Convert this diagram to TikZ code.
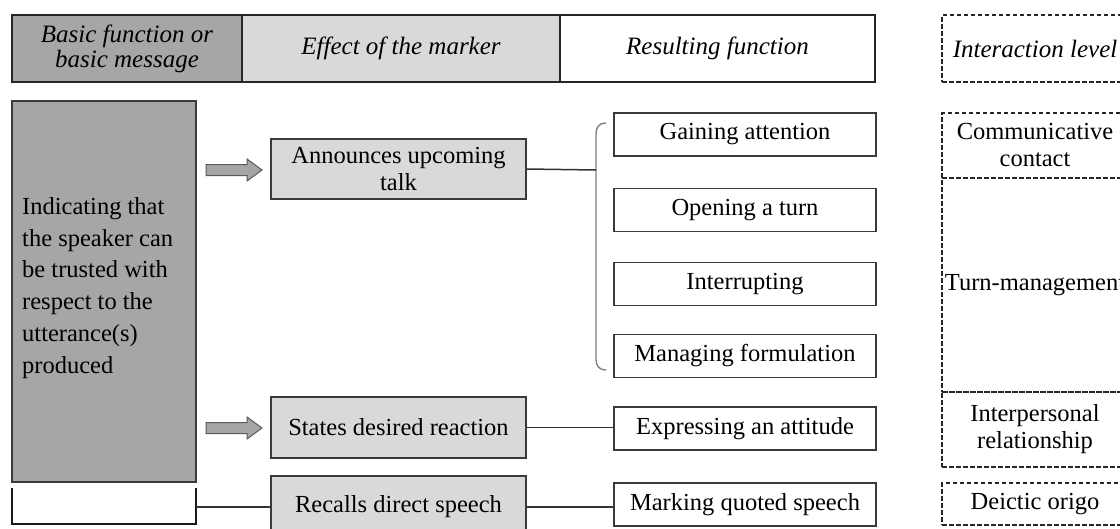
\documentclass[tikz,border=0pt]{standalone}
\usepackage{fontspec}
\setmainfont{Liberation Serif}
\usetikzlibrary{calc}
\definecolor{darkg}{HTML}{A6A6A6}
\definecolor{lightg}{HTML}{D9D9D9}
\definecolor{edgec}{HTML}{3A3A3A}
\definecolor{bracec}{HTML}{808080}
\definecolor{arrowc}{HTML}{5A5A5A}
\begin{document}
\begin{tikzpicture}[x=1pt,y=-1pt,
  box/.style={draw=edgec, line width=1.2pt, inner sep=0pt, align=center,
    font=\fontsize{24.5}{27}\selectfont},
  hdr/.style={box, draw=black!85, font=\fontsize{25}{25}\selectfont\itshape},
  lvl/.style={draw=black!85, dash pattern=on 4.5pt off 2.5pt, line width=1.1pt,
    inner sep=0pt, align=center, font=\fontsize{24.5}{27}\selectfont},
  link/.style={draw=black!80, line width=1.5pt},
  blockarrow/.style={fill=darkg, draw=arrowc, line width=1pt, line join=miter}
]
\useasboundingbox (0,0) rectangle (1120,528);
\clip (0,0) rectangle (1120,528);

% header row
\node[hdr, fill=darkg, minimum width=230pt, minimum height=67pt] (h1) at (127,48.5) {Basic function or\\basic message};
\node[hdr, fill=lightg, minimum width=318pt, minimum height=67pt] (h2) at (401,48.5) {Effect of the marker};
\node[hdr, fill=white, minimum width=315pt, minimum height=67pt] (h3) at (717.5,48.5) {Resulting function};
\node[lvl, font=\fontsize{25}{25}\selectfont\itshape, minimum width=186pt, minimum height=67pt] (h4) at (1035,48.5) {Interaction level};

% basic function box
\node[box, fill=darkg, minimum width=184pt, minimum height=381pt] (basic) at (104,291.5) {};
\node[anchor=west, inner sep=0pt, align=left, font=\fontsize{24.5}{31.8}\selectfont] (basictxt) at (22,288) {Indicating that\\the speaker can\\be trusted with\\respect to the\\utterance(s)\\produced};

% block arrows
\foreach \c/\n in {170/a1, 428/a2}{
  \draw[blockarrow] (206,\c-5.5) -- (247,\c-5.5) -- (247,\c-11) -- (262,\c) -- (247,\c+11) -- (247,\c+5.5) -- (206,\c+5.5) -- cycle;
}

% effect boxes
\node[box, fill=lightg, minimum width=255pt, minimum height=60pt] (ann) at (398.5,169) {Announces upcoming\\talk};
\node[box, fill=lightg, minimum width=255pt, minimum height=61pt] (sta) at (398.5,427.5) {States desired reaction};
\node[box, fill=lightg, minimum width=255pt, minimum height=62pt] (rec) at (398.5,507) {Recalls direct speech};

% resulting function boxes
\node[box, fill=white, minimum width=262pt, minimum height=43pt] (gain) at (745,134.5) {Gaining attention};
\node[box, fill=white, minimum width=262pt, minimum height=43pt] (open) at (745,210) {Opening a turn};
\node[box, fill=white, minimum width=262pt, minimum height=43pt] (intr) at (745,284) {Interrupting};
\node[box, fill=white, minimum width=262pt, minimum height=43pt] (mang) at (745,356) {Managing formulation};
\node[box, fill=white, minimum width=262pt, minimum height=43pt] (expr) at (745,428.5) {Expressing an attitude};
\node[box, fill=white, minimum width=262pt, minimum height=43pt] (mark) at (745,504.5) {Marking quoted speech};

% interaction level column
\node[lvl, minimum width=186pt, minimum height=65pt] (comm) at (1035,145.5) {Communicative\\contact};
\node[lvl, minimum width=186pt, minimum height=214pt] (turn) at (1035,285) {Turn-management};
\node[lvl, minimum width=186pt, minimum height=75pt] (inter) at (1035,429.5) {Interpersonal\\relationship};
\node[lvl, minimum width=186pt, minimum height=42pt] (deic) at (1035,504) {Deictic origo};

% brace
\coordinate (bj) at (596,170);
\draw[bracec, line width=1.4pt] (606,123) .. controls (599,123) and (596,127) .. (596,134) -- (596,359) .. controls (596,366) and (599,370) .. (606,370);
\draw[link] (ann.east) -- (bj);

% connectors
\draw[link] (sta.east) -- (sta.east -| expr.west);
\draw[link] (rec.east) -- (rec.east -| mark.west);

% bottom bracket
\coordinate (bk) at (196,507);
\draw[black!90, line width=2pt] (12,488) -- (12,524) -- (196,524) -- (196,488);
\draw[link] (bk) -- (rec.west);
\end{tikzpicture}
\end{document}
